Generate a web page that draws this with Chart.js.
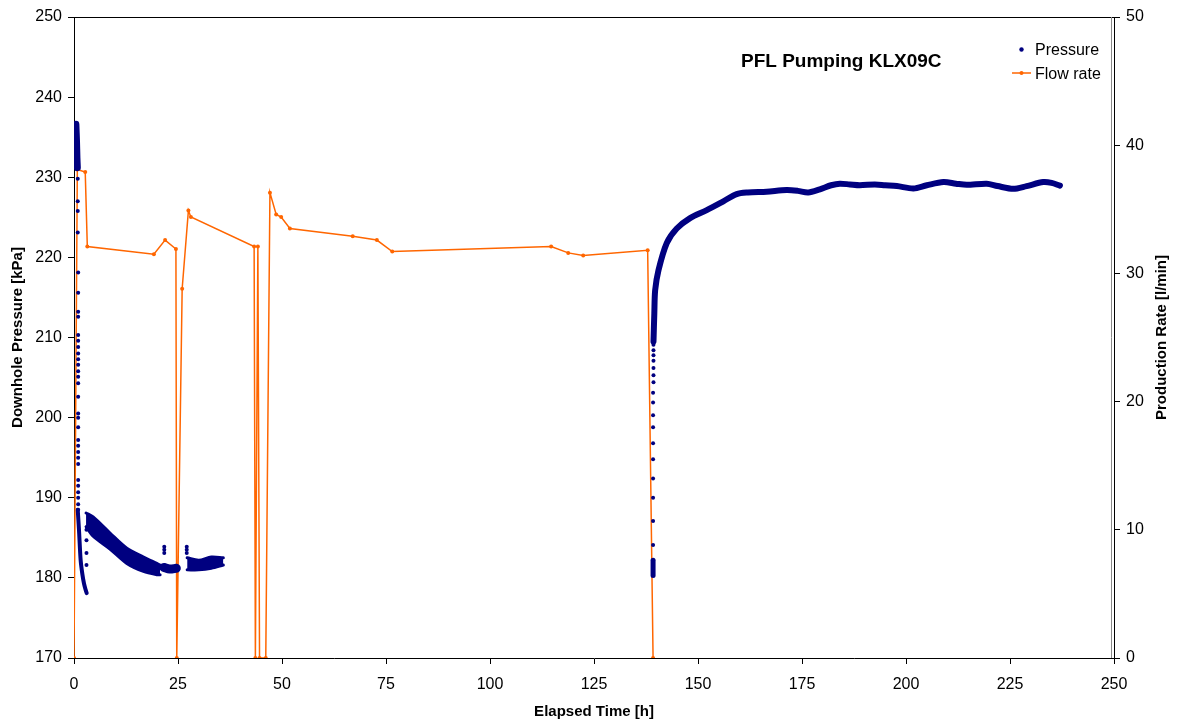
<!DOCTYPE html>
<html>
<head>
<meta charset="utf-8">
<title>PFL Pumping KLX09C</title>
<script src="https://cdn.jsdelivr.net/npm/chart.js@4.4.0/dist/chart.umd.min.js"></script>
<style>
  html, body { margin: 0; padding: 0; background: #fff; }
  #wrap { width: 1179px; height: 727px; }
</style>
</head>
<body>
<div id="wrap"><canvas id="pflChart" width="1179" height="727"></canvas></div>
<script>
// flow rate log, elapsed time [h] and rate [l/min]
const flowHours = [0, 0.8, 2.7, 3.2, 19.2, 21.9, 24.5, 24.7, 26.0, 27.5, 28.1, 43.3, 43.6, 44.2, 44.6, 46.1, 47.1, 48.6, 49.8, 51.9, 67.0, 72.8, 76.5, 114.7, 118.8, 122.4, 137.9, 139.2];
const flowRates = [0, 38.1, 37.9, 32.1, 31.5, 32.6, 31.9, 0, 28.8, 34.9, 34.4, 32.1, 0, 32.1, 0, 0, 36.3, 34.6, 34.4, 33.5, 32.9, 32.6, 31.7, 32.1, 31.6, 31.4, 31.8, 0];

// downhole pressure, [h, kPa]
const startCluster = [[0.45, 236.6], [0.6, 234.5], [0.7, 232.5], [0.8, 231.2]];
const sparseDots = [
  [0.9, 229.8], [0.9, 227.0], [0.9, 225.8], [0.9, 223.1], [1.0, 218.1], [1.0, 215.6], [1.0, 213.2], [1.0, 212.6],
  [1.0, 210.3], [1.0, 209.6], [1.0, 208.8], [1.0, 208.0], [1.0, 207.3], [1.0, 206.6], [1.0, 205.8], [1.0, 205.1],
  [1.0, 204.3], [1.0, 202.6], [1.0, 200.5], [1.0, 200.0], [1.0, 198.8], [1.0, 197.2], [1.0, 196.5], [1.0, 195.7],
  [1.0, 195.0], [1.0, 194.2], [1.0, 192.2], [1.0, 191.5], [1.0, 190.7], [1.0, 190.0], [1.0, 189.2], [1.0, 188.5],
  [3.0, 186.0], [3.0, 184.7], [3.0, 183.1], [3.0, 181.6],
  [21.7, 183.9], [21.7, 183.5], [21.7, 183.1],
  [27.1, 183.9], [27.1, 183.5], [27.1, 183.1],
  [139.2, 184.1], [139.2, 187.1], [139.2, 190.0], [139.2, 192.4], [139.2, 194.8], [139.2, 196.8], [139.2, 198.8],
  [139.2, 200.3], [139.2, 201.9], [139.2, 203.1], [139.3, 204.4], [139.3, 205.3], [139.3, 206.2], [139.3, 207.1],
  [139.3, 207.8], [139.3, 208.4], [139.3, 209.1]
];
const fallBranch = [[0.9, 188.5], [1.2, 186.0], [1.6, 182.2], [2.0, 180.5], [2.4, 179.3], [2.8, 178.5], [3.05, 178.1]];
const decayUpper = [[2.9, 188.1], [4.6, 187.6], [8.65, 185.6], [12.7, 183.7], [16.7, 182.6], [19.9, 181.8], [20.7, 181.6]];
const decayLower = [[2.9, 186.4], [4.6, 185.2], [8.65, 183.6], [12.7, 181.8], [16.7, 180.8], [19.9, 180.4], [20.7, 180.4]];
const midBand = [[21.6, 181.3], [23.0, 181.1], [24.6, 181.2]];
const lateUpper = [[27.2, 182.5], [30.0, 182.2], [33.0, 182.6], [35.9, 182.5]];
const lateLower = [[27.2, 181.0], [30.0, 181.0], [33.0, 181.2], [35.9, 181.6]];
const recoveryBase = [[139.2, 180.3], [139.2, 182.2]];
const recoveryCurve = [
  [139.3, 209.5], [139.5, 213.0], [139.7, 215.9], [140.5, 218.4], [142.5, 221.8], [144.9, 223.6], [148.1, 224.9],
  [152.1, 225.9], [156.1, 227.0], [159.3, 227.9], [162.0, 228.1], [166.5, 228.2], [171.3, 228.4], [174.0, 228.3],
  [176.5, 228.1], [179.3, 228.5], [182.0, 229.0], [184.1, 229.2], [186.5, 229.1], [188.9, 229.0], [192.5, 229.1],
  [195.0, 229.0], [197.8, 228.9], [201.8, 228.6], [205.0, 229.0], [209.0, 229.4], [212.0, 229.2], [214.6, 229.05],
  [219.4, 229.2], [222.0, 228.9], [225.8, 228.55], [229.0, 228.9], [233.0, 229.4], [235.0, 229.3], [237.0, 228.95]
];

const NAVY = "#000080";
const ORANGE = "#FF6600";
const FONT = "'Liberation Sans', Arial, sans-serif";

function toPoints(list) {
  return list.map((p) => ({ x: p[0], y: p[1] }));
}

function band(list, width, fill) {
  return {
    label: "",
    data: toPoints(list),
    yAxisID: "y",
    showLine: true,
    borderColor: NAVY,
    backgroundColor: NAVY,
    borderWidth: width,
    borderCapStyle: "round",
    borderJoinStyle: "round",
    pointRadius: 0,
    tension: 0.3,
    fill: fill || false,
  };
}

const flowPoints = flowHours.map((h, i) => ({ x: h, y: flowRates[i] }));

// title, legend, right axis title and top frame line
const decorations = {
  id: "decorations",
  afterDraw(chart) {
    const ctx = chart.ctx;
    const area = chart.chartArea;
    ctx.save();

    ctx.strokeStyle = "#000";
    ctx.lineWidth = 1;
    ctx.beginPath();
    ctx.moveTo(area.left, area.top + 0.5);
    ctx.lineTo(area.right, area.top + 0.5);
    ctx.stroke();
    ctx.strokeStyle = "#888";
    ctx.beginPath();
    ctx.moveTo(area.right - 2.5, area.top);
    ctx.lineTo(area.right - 2.5, area.bottom);
    ctx.stroke();

    ctx.fillStyle = "#000";
    ctx.font = "bold 19px " + FONT;
    ctx.textAlign = "left";
    ctx.textBaseline = "middle";
    ctx.fillText("PFL Pumping KLX09C", 741, 62);

    ctx.font = "16px " + FONT;
    ctx.fillText("Pressure", 1035, 50.5);
    ctx.fillText("Flow rate", 1035, 74.5);
    ctx.fillStyle = NAVY;
    ctx.beginPath();
    ctx.arc(1021.5, 49.5, 2.2, 0, Math.PI * 2);
    ctx.fill();
    ctx.strokeStyle = ORANGE;
    ctx.lineWidth = 1.5;
    ctx.beginPath();
    ctx.moveTo(1012, 73);
    ctx.lineTo(1031, 73);
    ctx.stroke();
    ctx.fillStyle = ORANGE;
    ctx.beginPath();
    ctx.arc(1021.5, 73, 2, 0, Math.PI * 2);
    ctx.fill();

    ctx.fillStyle = "#000";
    ctx.font = "bold 15px " + FONT;
    ctx.textAlign = "center";
    ctx.translate(1162, (area.top + area.bottom) / 2);
    ctx.rotate(-Math.PI / 2);
    ctx.fillText("Production Rate [l/min]", 0, 0);
    ctx.restore();
  },
};

const ctx = document.getElementById("pflChart").getContext("2d");
const pflChart = new Chart(ctx, {
  type: "scatter",
  data: {
    datasets: [
      {
        label: "Pressure",
        data: toPoints(sparseDots),
        yAxisID: "y",
        backgroundColor: NAVY,
        borderColor: NAVY,
        pointRadius: 2,
        pointBorderWidth: 0,
      },
      band(startCluster, 7),
      band(fallBranch, 4),
      band(decayUpper, 3, "+1"),
      band(decayLower, 3),
      band(midBand, 9),
      band(lateUpper, 3, "+1"),
      band(lateLower, 3),
      band(recoveryBase, 5),
      band(recoveryCurve, 6),
      {
        label: "Flow rate",
        data: flowPoints,
        yAxisID: "y1",
        showLine: true,
        borderColor: ORANGE,
        backgroundColor: ORANGE,
        borderWidth: 1.5,
        pointRadius: 2,
        pointBorderWidth: 0,
        tension: 0,
      },
    ],
  },
  options: {
    responsive: false,
    animation: false,
    layout: { padding: { top: 17, left: 0, right: 0, bottom: 0 } },
    plugins: {
      legend: { display: false },
      tooltip: { enabled: false },
    },
    scales: {
      x: {
        type: "linear",
        min: 0,
        max: 250,
        ticks: { stepSize: 25, color: "#000", font: { family: FONT, size: 16 }, padding: 11, maxRotation: 0 },
        grid: { drawOnChartArea: false, tickLength: 6, color: "#000" },
        border: { color: "#000" },
        title: { display: true, text: "Elapsed Time [h]", color: "#000", font: { family: FONT, size: 15, weight: "bold" }, padding: { bottom: 6 } },
        afterFit(scale) { scale.height = 69; },
      },
      y: {
        position: "left",
        min: 170,
        max: 250,
        ticks: { stepSize: 10, color: "#000", font: { family: FONT, size: 16 }, padding: 6 },
        grid: { drawOnChartArea: false, tickLength: 6, color: "#000" },
        border: { color: "#000" },
        title: { display: true, text: "Downhole Pressure [kPa]", color: "#000", font: { family: FONT, size: 15, weight: "bold" }, padding: { top: 9 } },
        afterFit(scale) { scale.width = 74; },
      },
      y1: {
        position: "right",
        min: 0,
        max: 50,
        ticks: { stepSize: 10, color: "#000", font: { family: FONT, size: 16 }, padding: 6 },
        grid: { drawOnChartArea: false, tickLength: 6, color: "#000" },
        border: { color: "#000" },
        afterFit(scale) { scale.width = 65; },
      },
    },
  },
  plugins: [decorations],
});
</script>
</body>
</html>
